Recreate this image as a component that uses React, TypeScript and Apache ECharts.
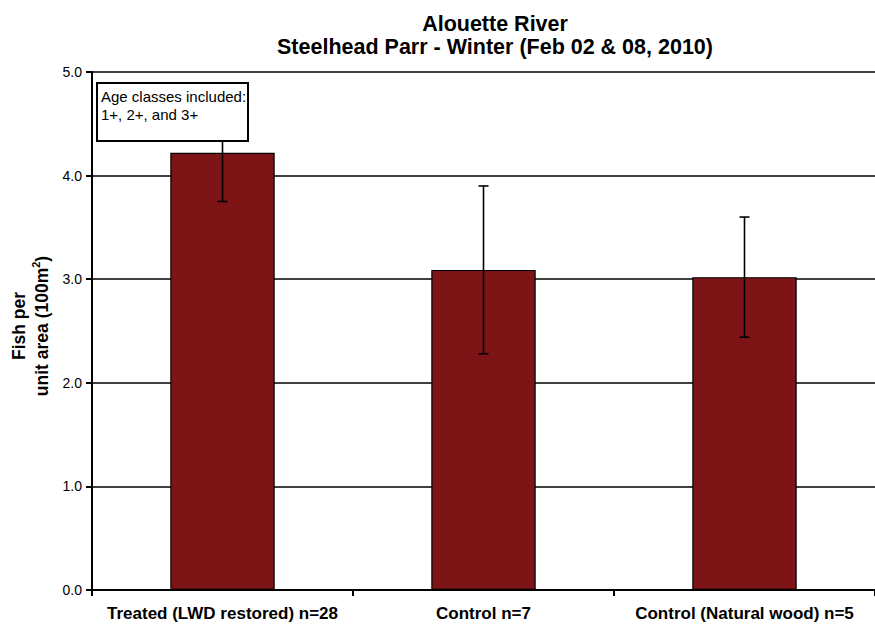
import React, { useEffect, useRef } from "react";
import * as echarts from "echarts";

const categories = ["Treated (LWD restored) n=28", "Control n=7", "Control (Natural wood) n=5"];
const meanDensity = [4.22, 3.09, 3.02];
const errorHalfWidth = [0.47, 0.81, 0.58];
const yTicks = [0, 1, 2, 3, 4, 5];

const FONT = "Liberation Sans, Arial, sans-serif";

export default function App() {
  const ref = useRef<HTMLDivElement>(null);

  useEffect(() => {
    if (!ref.current) return;
    const chart = echarts.init(ref.current, null, { renderer: "svg" });
    const errorData = meanDensity.map((m, i) => [i, m - errorHalfWidth[i], m + errorHalfWidth[i]]);

    chart.setOption({
      animation: false,
      backgroundColor: "#ffffff",
      title: {
        text: "Alouette River\nSteelhead Parr - Winter (Feb 02 & 08, 2010)",
        left: 490,
        top: 7,
        textAlign: "center",
        textStyle: {
          fontFamily: FONT,
          fontSize: 21.5,
          fontWeight: "bold",
          color: "#000",
          lineHeight: 23,
        },
      },
      grid: { left: 92, top: 72, width: 792, height: 518, containLabel: false },
      xAxis: {
        type: "category",
        data: categories,
        axisLine: { lineStyle: { color: "#000", width: 2 } },
        axisTick: { show: true, length: 6, lineStyle: { color: "#000", width: 2 }, alignWithLabel: false },
        axisLabel: {
          fontFamily: FONT,
          fontSize: 17,
          fontWeight: "bold",
          color: "#000",
          margin: 15,
          interval: 0,
        },
      },
      yAxis: {
        type: "value",
        min: 0,
        max: 5,
        interval: 1,
        axisLine: { show: true, lineStyle: { color: "#000", width: 2 } },
        axisTick: { show: true, length: 6, lineStyle: { color: "#000", width: 2 } },
        axisLabel: {
          fontFamily: FONT,
          fontSize: 14,
          color: "#000",
          margin: 10,
          formatter: (v: number) => (yTicks.includes(v) ? v.toFixed(1) : ""),
        },
        splitLine: { show: true, lineStyle: { color: "#000", width: 1.5 } },
      },
      graphic: [
        {
          type: "text",
          x: 30,
          y: 326,
          rotation: Math.PI / 2,
          z: 100,
          style: {
            text: "Fish per\nunit area (100m{sup|2})",
            fontFamily: FONT,
            fontSize: 17.5,
            fontWeight: "bold",
            fill: "#000",
            align: "center",
            verticalAlign: "middle",
            lineHeight: 23,
            rich: {
              sup: { fontSize: 11, fontWeight: "bold", fontFamily: FONT, verticalAlign: "top", lineHeight: 12 },
            },
          },
        },
        {
          type: "group",
          x: 97,
          y: 83,
          z: 100,
          children: [
            {
              type: "rect",
              z: 100,
              shape: { x: 0, y: 0, width: 151, height: 58 },
              style: { fill: "#fff", stroke: "#000", lineWidth: 2 },
            },
            {
              type: "text",
              z: 101,
              x: 4,
              y: 4,
              style: {
                text: "Age classes included:\n1+, 2+, and 3+",
                fontFamily: FONT,
                fontSize: 15,
                fill: "#000",
                lineHeight: 18,
              },
            },
          ],
        },
      ],
      series: [
        {
          type: "bar",
          data: meanDensity,
          barWidth: "40%",
          itemStyle: { color: "#7d1517", borderColor: "#000", borderWidth: 1.2 },
          z: 2,
        },
        {
          type: "custom",
          data: errorData,
          z: 3,
          renderItem: (params: any, api: any) => {
            const x = api.value(0);
            const lo = api.coord([x, api.value(1)]);
            const hi = api.coord([x, api.value(2)]);
            const cap = 5;
            const style = { stroke: "#000", lineWidth: 1.6, fill: "none" };
            return {
              type: "group",
              children: [
                { type: "line", shape: { x1: lo[0], y1: lo[1], x2: hi[0], y2: hi[1] }, style },
                { type: "line", shape: { x1: lo[0] - cap, y1: lo[1], x2: lo[0] + cap, y2: lo[1] }, style },
                { type: "line", shape: { x1: hi[0] - cap, y1: hi[1], x2: hi[0] + cap, y2: hi[1] }, style },
              ],
            };
          },
        },
      ],
    });

    return () => chart.dispose();
  }, []);

  return (
    <div
      ref={ref}
      style={{ position: "absolute", left: 0, top: 0, width: 875, height: 627 }}
    />
  );
}
